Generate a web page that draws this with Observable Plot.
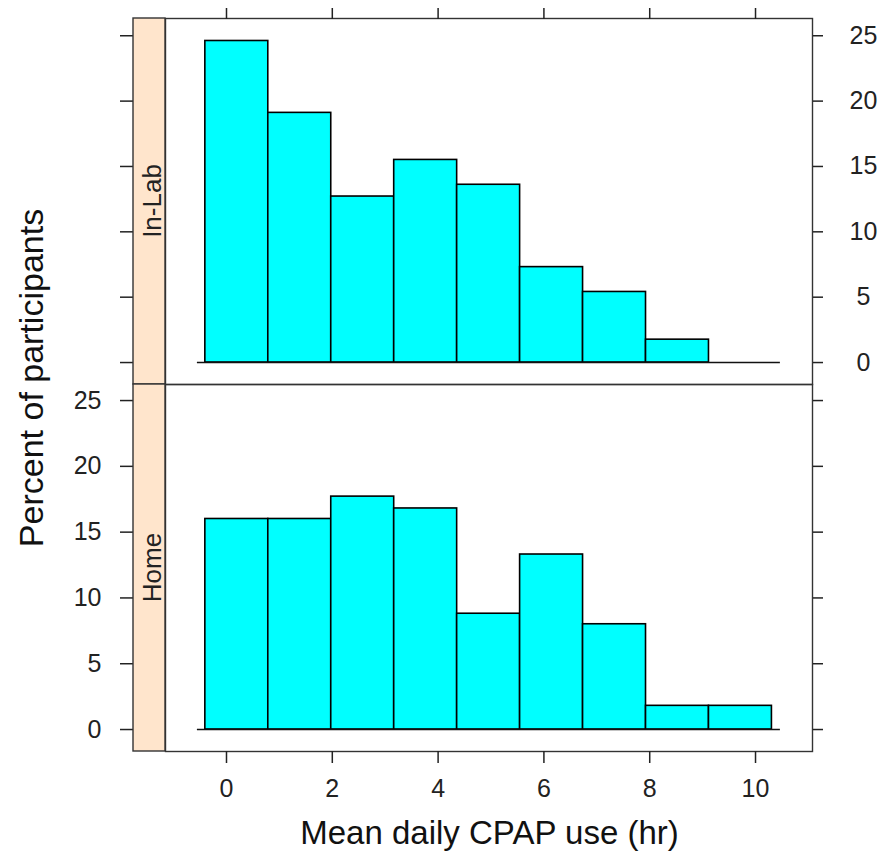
<!DOCTYPE html>
<html>
<head>
<meta charset="utf-8">
<script src="https://cdn.jsdelivr.net/npm/d3@7"></script>
<script src="https://cdn.jsdelivr.net/npm/@observablehq/plot@0.6"></script>
<style>
  html, body { margin: 0; padding: 0; background: #fff; }
  #chart { position: relative; width: 889px; height: 853px; font-family: "Liberation Sans", Arial, sans-serif; }
  #chart svg { position: absolute; left: 0; }
</style>
</head>
<body>
<div id="chart"></div>
<script>
// ---- data ----
const binEdges = [-0.4, 0.79, 1.98, 3.17, 4.36, 5.55, 6.74, 7.93, 9.12, 10.31];
const inLabPercent = [24.6, 19.1, 12.7, 15.5, 13.6, 7.3, 5.4, 1.75, 0];
const homePercent = [16.0, 16.0, 17.7, 16.8, 8.8, 13.3, 8.0, 1.8, 1.8];
const panelNames = ["In-Lab", "Home"];
const xTicks = [0, 2, 4, 6, 8, 10];
const yTicks = [0, 5, 10, 15, 20, 25];
const baselineExtent = [-0.55, 10.47];
const xTitle = "Mean daily CPAP use (hr)";
const yTitle = "Percent of participants";

(function () {
function bins(values) {
  return values.map((v, i) => ({x1: binEdges[i], x2: binEdges[i + 1], pct: v})).filter(d => d.pct > 0);
}

const W = 889;
const mL = 165, mR = 77;
const xDomain = [-1.153, 11.077];
const font = "Liberation Sans, Arial, sans-serif";
const axisColor = "#333";
const stripFill = "#ffe5cc";

function barsMarks(values) {
  return [
    Plot.rectY(bins(values), {x1: "x1", x2: "x2", y: "pct", fill: "#00ffff", stroke: "#000", strokeWidth: 1.6}),
    Plot.ruleY([0], {x1: baselineExtent[0], x2: baselineExtent[1], stroke: "#111", strokeWidth: 1.6}),
    Plot.frame({stroke: axisColor, strokeWidth: 1.4})
  ];
}

function addStrip(svg, y0, y1, label) {
  const g = d3.select(svg);
  g.append("rect")
    .attr("x", 133).attr("y", y0).attr("width", mL - 133).attr("height", y1 - y0)
    .attr("fill", stripFill).attr("stroke", axisColor).attr("stroke-width", 1.4);
  g.append("text")
    .attr("transform", `translate(161,${(y0 + y1) / 2}) rotate(-90)`)
    .attr("text-anchor", "middle")
    .attr("font-family", font).attr("font-size", 26).attr("fill", "#222")
    .text(label);
}

// ---- top panel: In-Lab ----
const topH = 400, topMT = 18, topMB = 16;
const topPlot = Plot.plot({
  width: W, height: topH,
  marginTop: topMT, marginBottom: topMB, marginLeft: mL, marginRight: mR,
  x: {domain: xDomain},
  y: {domain: [-1.68, 26.32]},
  style: {fontFamily: font, fontSize: "25px", color: "#222", background: "transparent", overflow: "visible"},
  marks: [
    ...barsMarks(inLabPercent),
    Plot.axisX(xTicks, {anchor: "top", tickSize: 11, strokeWidth: 1.5, tickFormat: () => "", label: null}),
    Plot.axisY(yTicks, {anchor: "right", tickSize: 10, strokeWidth: 1.5, tickPadding: 41, textAnchor: "middle", label: null}),
    Plot.axisY(yTicks, {anchor: "left", tickSize: 13, strokeWidth: 1.5, dx: -32, tickFormat: () => "", label: null})
  ]
});
topPlot.style.top = "0px";
document.getElementById("chart").appendChild(topPlot);
addStrip(topPlot, topMT, topH - topMB, panelNames[0]);

// ---- bottom panel: Home ----
const botTopPx = 384;
const botH = 853 - botTopPx, botMT = 0, botMB = 102;
const botPlot = Plot.plot({
  width: W, height: botH,
  marginTop: botMT, marginBottom: botMB, marginLeft: mL, marginRight: mR,
  x: {domain: xDomain},
  y: {domain: [-1.67, 26.22]},
  style: {fontFamily: font, fontSize: "25px", color: "#222", background: "transparent", overflow: "visible"},
  marks: [
    ...barsMarks(homePercent),
    Plot.axisX(xTicks, {anchor: "bottom", tickSize: 12, strokeWidth: 1.5, tickPadding: 16, label: null}),
    Plot.axisY(yTicks, {anchor: "left", tickSize: 13, strokeWidth: 1.5, dx: -32, tickPadding: 19, label: null}),
    Plot.axisY(yTicks, {anchor: "right", tickSize: 10, strokeWidth: 1.5, tickFormat: () => "", label: null})
  ]
});
botPlot.style.top = botTopPx + "px";
document.getElementById("chart").appendChild(botPlot);
addStrip(botPlot, botMT, botH - botMB, panelNames[1]);

// axis titles
d3.select(botPlot).append("text")
  .attr("x", (mL + (W - mR)) / 2 + 1).attr("y", 844 - botTopPx)
  .attr("text-anchor", "middle")
  .attr("font-family", font).attr("font-size", 33).attr("fill", "#111")
  .text(xTitle);
d3.select(botPlot).append("text")
  .attr("transform", `translate(43,${378 - botTopPx}) rotate(-90)`)
  .attr("text-anchor", "middle")
  .attr("font-family", font).attr("font-size", 34).attr("fill", "#111")
  .text(yTitle);
})();
</script>
</body>
</html>
